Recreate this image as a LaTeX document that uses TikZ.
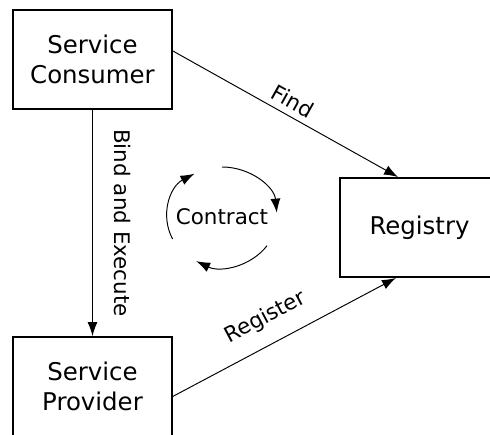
\documentclass[tikz,border=0pt]{standalone}
\usepackage{fontspec}
\setmainfont{DejaVu Sans}
\usetikzlibrary{arrows.meta, calc}
\tikzset{> = { Latex[length = 2.8mm, width = 2mm] }}
\newcommand{\boxfont}{\fontsize{13.9}{17}\selectfont}
\newcommand{\lblfont}{\fontsize{12.2}{14.6}\selectfont}

\begin{document}
\begin{tikzpicture}[
		box/.style = {draw, line width = 1.1pt, minimum width = 3.18cm, minimum height = 1.98cm, align = center, font = \boxfont},
		lbl/.style = {font = \lblfont},
		line width = 0.55pt
	]
		\useasboundingbox (0, 0) rectangle (9.8, -8.7);

		\node [box] (consumer) at (1.85, -1.19) {Service\\Consumer};
		\node [box] (provider) at (1.85, -7.73) {Service\\Provider};
		\node [box] (registry) at (8.39, -4.55) {Registry};
		\node [lbl] (contract) at (4.44, -4.34) {Contract};

		\draw [->] (consumer.south) -- node[lbl, sloped, above = 0.3cm]{Bind and Execute} (provider.north);
		\draw [->] (consumer.6) -- node[lbl, sloped, above]{Find} (registry.113);
		\draw [->] (provider.-7.5) -- node[lbl, sloped, above = 0.19cm, pos = 0.47]{Register} (registry.245);

		% contract cycle
		\draw [->] ($(contract.center) + (90:1.1cm and 1cm)$) arc [start angle = 90, end angle = 5, x radius = 1.1cm, y radius = 1cm];
		\draw [->] ($(contract.center) + (-35:1.1cm and 1cm)$) arc [start angle = -35, end angle = -118, x radius = 1.1cm, y radius = 1cm];
		\draw [->] ($(contract.center) + (206:1.1cm and 1cm)$) arc [start angle = 206, end angle = 120, x radius = 1.1cm, y radius = 1cm];
	\end{tikzpicture}
\end{document}
